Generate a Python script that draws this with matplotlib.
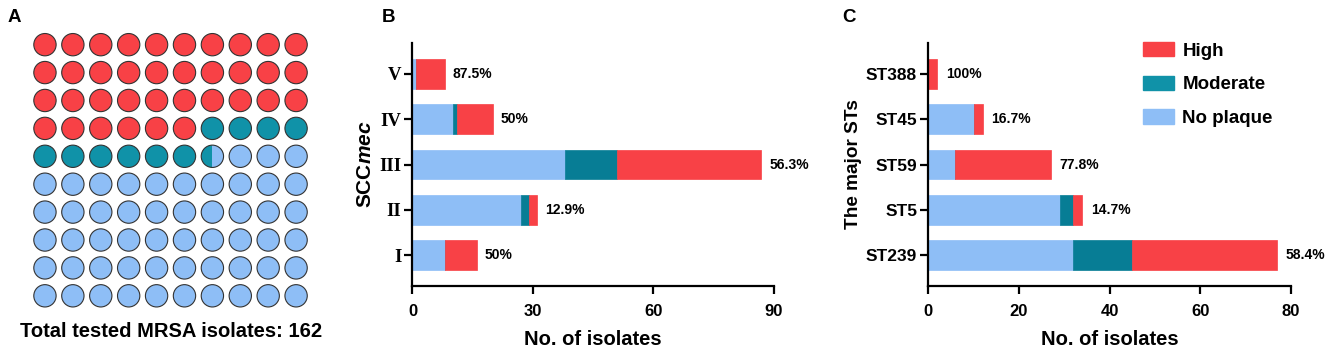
import numpy as np
import matplotlib
matplotlib.use("Agg")
import matplotlib.pyplot as plt
from matplotlib.patches import Circle, Rectangle, Patch

plt.rcParams["font.family"] = ["Liberation Sans", "DejaVu Sans"]
plt.rcParams["font.weight"] = "bold"
plt.rcParams["mathtext.fontset"] = "custom"
plt.rcParams["mathtext.bf"] = "Liberation Sans:bold"
plt.rcParams["mathtext.bfit"] = "Liberation Sans:italic:bold"

# colours
c_high = "#F84146"
c_mod_bar = "#077D95"
c_mod_dot = "#1092A8"
c_none = "#8EBEF6"

# panel A: waffle (dots out of 100)
waffle_levels = ["High", "Moderate", "No plaque"]
waffle_dots = [36, 10.5, 53.5]
total_tested = 162

# panel B: SCCmec types
scc_types = ["I", "II", "III", "IV", "V"]
scc_none = [8, 27, 38, 10, 1]
scc_mod = [0, 2, 13, 1, 0]
scc_high = [8, 2, 36, 9, 7]
scc_pct = ["50%", "12.9%", "56.3%", "50%", "87.5%"]

# panel C: major STs
st_types = ["ST239", "ST5", "ST59", "ST45", "ST388"]
st_none = [32, 29, 6, 10, 0]
st_mod = [13, 3, 0, 0, 0]
st_high = [32, 2, 21, 2, 2]
st_pct = ["58.4%", "14.7%", "77.8%", "16.7%", "100%"]

fig = plt.figure(figsize=(13.25, 3.49), dpi=100)

# ---- A
axA = fig.add_axes([0.0234, 0.1117, 0.2106, 0.801])
cum = np.cumsum(waffle_dots)
cols_dot = [c_high, c_mod_dot, c_none]
for i in range(100):
    r, c = divmod(i, 10)
    x, y = c, r
    # which category does this dot start in
    k = int(np.searchsorted(cum, i, side="right"))
    circ = Circle((x, y), 0.4, facecolor=cols_dot[k], edgecolor="none", zorder=1)
    axA.add_patch(circ)
    if k < 2 and cum[k] < i + 1:
        # split dot
        frac = cum[k] - i
        rect = Rectangle((x - 0.4 + frac * 0.8, y - 0.5), 1, 1, facecolor=cols_dot[k + 1],
                         edgecolor="none", zorder=2)
        axA.add_patch(rect)
        rect.set_clip_path(circ)
    axA.add_patch(Circle((x, y), 0.4, facecolor="none", edgecolor="#333333", lw=0.8, zorder=3))
axA.set_xlim(-0.5, 9.5)
axA.set_ylim(9.5, -0.5)
axA.set_aspect("equal")
axA.axis("off")
fig.text(0.129, 0.051, "Total tested MRSA isolates: %d" % total_tested, ha="center", va="center",
         fontsize=14.5, fontweight="bold")


def stacked(ax, labels, none, mod, high, pct, xmax, step):
    y = np.arange(len(labels))
    none = np.array(none)
    mod = np.array(mod)
    high = np.array(high)
    h = 0.66
    ax.barh(y, none, height=h, color=c_none, edgecolor=c_none, lw=0.5)
    ax.barh(y, mod, left=none, height=h, color=c_mod_bar, edgecolor=c_mod_bar, lw=0.5)
    ax.barh(y, high, left=none + mod, height=h, color=c_high, edgecolor=c_high, lw=0.5)
    tot = none + mod + high
    for yi, t, p in zip(y, tot, pct):
        ax.annotate(p, (t, yi), xytext=(6, 0), textcoords="offset points", ha="left", va="center",
                    fontsize=10, fontweight="bold")
    ax.set_xlim(0, xmax)
    ax.set_ylim(-0.68, len(labels) - 0.32)
    ax.set_xticks(np.arange(0, xmax + 1, step))
    ax.set_yticks(y)
    for s in ["top", "right"]:
        ax.spines[s].set_visible(False)
    for s in ["left", "bottom"]:
        ax.spines[s].set_linewidth(1.6)
    ax.tick_params(axis="x", length=6, width=1.6, labelsize=12, pad=7)
    ax.tick_params(axis="y", length=6, width=1.6, pad=2)
    ax.set_xlabel("No. of isolates", fontsize=14.5, fontweight="bold", labelpad=8)


# ---- B
axB = fig.add_axes([0.3113, 0.1805, 0.2725, 0.6963])
stacked(axB, scc_types, scc_none, scc_mod, scc_high, scc_pct, 90, 30)
axB.set_yticklabels(scc_types, family=["Liberation Serif"], fontsize=13.5, fontweight="bold")
axB.set_ylabel(r"$\mathbf{SCC}\mathbfit{mec}$", fontsize=15, labelpad=3)

# ---- C
axC = fig.add_axes([0.7006, 0.1805, 0.2737, 0.6963])
stacked(axC, st_types, st_none, st_mod, st_high, st_pct, 80, 20)
axC.set_yticklabels(st_types, fontsize=12.5, fontweight="bold")
axC.set_ylabel("The major STs", fontsize=13.7, fontweight="bold", labelpad=3)

handles = [Patch(facecolor=c_high, edgecolor=c_high), Patch(facecolor=c_mod_dot, edgecolor=c_mod_dot),
           Patch(facecolor=c_none, edgecolor=c_none)]
fig.legend(handles, waffle_levels, loc="upper left", bbox_to_anchor=(0.850, 0.928), frameon=False,
           prop={"size": 13.5, "weight": "bold"}, handlelength=1.65, handleheight=0.8,
           labelspacing=0.85, handletextpad=0.45)

for lab, x in [("A", 0.006), ("B", 0.288), ("C", 0.636)]:
    fig.text(x, 0.95, lab, fontsize=13.5, fontweight="bold", va="center")

fig.savefig("out.png", dpi=100)
